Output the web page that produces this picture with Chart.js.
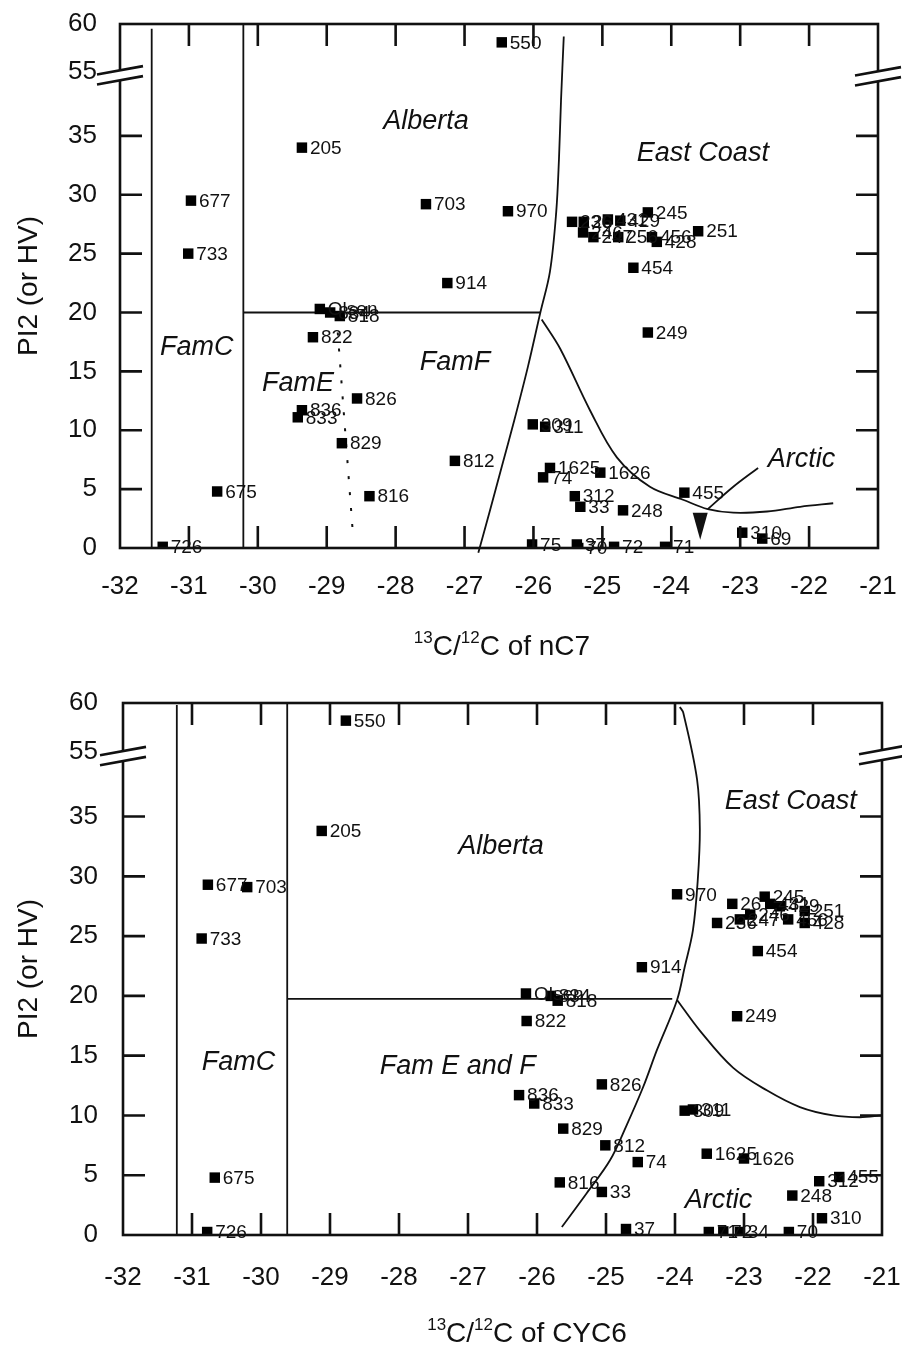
<!DOCTYPE html>
<html>
<head>
<meta charset="utf-8">
<title>PI2 vs carbon isotope ratio</title>
<script src="https://cdn.jsdelivr.net/npm/chart.js@4.4.1/dist/chart.umd.min.js"></script>
<style>
  html, body { margin: 0; padding: 0; background: #fff; }
  #wrap { position: relative; width: 902px; height: 1348px; overflow: hidden; }
  canvas { position: absolute; left: 0; }
  #nc7 { top: 0; }
  #cyc6 { top: 674px; }
</style>
</head>
<body>
<div id="wrap">
  <canvas id="nc7" width="902" height="672"></canvas>
  <canvas id="cyc6" width="902" height="674"></canvas>
</div>
<script>
const FONT = '"Liberation Sans", Arial, Helvetica, sans-serif';
const INK = '#111';

// ---- axes ----
const X_TICKS = [-32, -31, -30, -29, -28, -27, -26, -25, -24, -23, -22, -21];
const X_INNER_TICKS = [-31, -30, -29, -28, -27, -26, -25, -24, -23, -22];
const Y_TICK_LABELS = [0, 5, 10, 15, 20, 25, 30, 35, 55, 60];
const Y_INNER_TICKS = [5, 10, 15, 20, 25, 30, 35];

// axis break: values from 55 up are drawn compressed just above 40
const BREAK_FROM = 55, BREAK_BASE = 40.4, BREAK_SCALE = 0.82;
function disp(v) { return v >= BREAK_FROM ? BREAK_BASE + (v - BREAK_FROM) * BREAK_SCALE : v; }

// ---- samples, d13C of nC7 ----
const NC7_IDS = ['205','677','733','703','914','550','970','Olsen','834','818','822','826','836','833','829','816','675','726',
  '236','26','431','429','245','246','247','256','456','428','251','454','249','309','311','812','1625','74','1626',
  '312','33','248','455','310','69','75','37','70','72','71'];
const NC7_X = [-29.36,-30.97,-31.01,-27.56,-27.25,-26.46,-26.37,-29.10,-28.95,-28.81,-29.20,-28.56,-29.36,-29.42,-28.78,-28.38,-30.59,-31.38,
  -25.44,-25.27,-24.92,-24.74,-24.34,-25.28,-25.13,-24.77,-24.28,-24.21,-23.61,-24.55,-24.34,-26.01,-25.83,-27.14,-25.76,-25.86,-25.03,
  -25.40,-25.32,-24.70,-23.81,-22.97,-22.68,-26.02,-25.37,-25.35,-24.83,-24.09];
const NC7_PI2 = [34.0,29.5,25.0,29.2,22.5,58.1,28.6,20.3,20.0,19.7,17.9,12.7,11.7,11.1,8.9,4.4,4.8,0.1,
  27.7,27.7,27.9,27.8,28.5,26.8,26.4,26.4,26.4,26.0,26.9,23.8,18.3,10.5,10.3,7.4,6.8,6.0,6.4,
  4.4,3.5,3.2,4.7,1.3,0.8,0.3,0.3,0.0,0.1,0.1];

// ---- samples, d13C of CYC6 ----
const CYC6_IDS = ['205','677','733','703','914','550','970','Olsen','834','818','822','826','836','833','829','816','675','726',
  '236','26','431','429','245','246','247','456','428','251','454','249','309','311','812','1625','74','1626',
  '312','33','248','455','310','37','71','72','34','70'];
const CYC6_X = [-29.12,-30.77,-30.86,-30.20,-24.48,-28.77,-23.97,-26.16,-25.80,-25.70,-26.15,-25.06,-26.26,-26.04,-25.62,-25.67,-30.67,-30.78,
  -23.39,-23.17,-22.62,-22.48,-22.70,-22.91,-23.06,-22.36,-22.12,-22.12,-22.80,-23.10,-23.86,-23.74,-25.01,-23.54,-24.54,-23.00,
  -21.91,-25.06,-22.30,-21.62,-21.87,-24.71,-23.51,-23.30,-23.06,-22.35];
const CYC6_PI2 = [33.8,29.3,24.8,29.1,22.4,58.2,28.5,20.2,20.0,19.6,17.9,12.6,11.7,11.0,8.9,4.4,4.8,0.25,
  26.1,27.7,27.7,27.5,28.3,26.8,26.4,26.4,26.1,27.1,23.75,18.3,10.4,10.5,7.5,6.8,6.1,6.4,
  4.5,3.6,3.3,4.85,1.4,0.5,0.25,0.3,0.25,0.25];

// ---- field boundaries, nC7 ----
const NC7_FAMC_WEST = [[-31.54, 59.5], [-31.54, 0]];
const NC7_FAMC_EAST = [[-30.21, 60], [-30.21, 0]];
const NC7_PI2_20 = [[-30.21, 20], [-25.9, 20]];
const NC7_EAST_COAST = [[-25.56, 58.7], [-25.60, 38], [-25.63, 33], [-25.67, 28.5], [-25.76, 23.5], [-25.9, 20],
  [-26.08, 15.4], [-26.28, 10.8], [-26.46, 6.9], [-26.64, 3.0], [-26.8, -0.4]];
const NC7_ARCTIC = [[-25.88, 19.4], [-25.61, 16.9], [-25.18, 11.7], [-24.79, 7.7], [-24.31, 5.2], [-23.83, 4.1],
  [-23.47, 3.3], [-23.10, 3.0], [-22.61, 3.1], [-22.13, 3.5], [-21.65, 3.8]];
const NC7_ARCTIC_LEADER = [[-23.47, 3.3], [-23.10, 5.2], [-22.74, 6.8]];
const NC7_FAME = [[-28.84, 18.3], [-28.62, 1.2]];
const NC7_ARROW = { x: -23.58, tip: 0.7, base: 3.0 };
const NC7_FIELDS = [['FamC', -31.42, 16.4], ['FamE', -29.94, 13.3], ['FamF', -27.65, 15.15],
  ['Alberta', -28.18, 35.57], ['East Coast', -24.50, 32.85], ['Arctic', -22.60, 6.9]];

// ---- field boundaries, CYC6 ----
const CYC6_FAMC_WEST = [[-31.22, 59.8], [-31.22, 0]];
const CYC6_FAMC_EAST = [[-29.62, 60], [-29.62, 0]];
const CYC6_PI2_20 = [[-29.62, 19.75], [-24.04, 19.75]];
const CYC6_EAST_COAST = [[-23.93, 59.6], [-23.88, 59.0], [-23.68, 38.1], [-23.64, 33.9], [-23.67, 29.7], [-23.74, 25.5],
  [-23.86, 22.4], [-23.97, 19.66], [-24.26, 15.5], [-24.46, 12.4], [-24.70, 9.2], [-24.94, 6.27], [-25.28, 3.5], [-25.64, 0.67]];
const CYC6_ARCTIC = [[-23.97, 19.66], [-23.64, 17.1], [-23.16, 14.0], [-22.67, 12.1], [-22.19, 10.7], [-21.71, 10.0],
  [-21.32, 9.85], [-21.0, 10.0]];
const CYC6_FIELDS = [['FamC', -30.86, 13.8], ['Fam E and F', -28.28, 13.5], ['Alberta', -27.14, 31.9],
  ['East Coast', -23.28, 35.6], ['Arctic', -23.86, 2.25]];

function pts(list) { return list.map(([x, y]) => ({ x, y: disp(y) })); }

function boundary(list, extra) {
  return Object.assign({
    data: pts(list), showLine: true, pointRadius: 0, borderColor: INK, borderWidth: 1.8,
    tension: 0.35, fill: false, order: 5
  }, extra || {});
}

// frame, inward ticks, axis breaks, labels and axis title
const decor = {
  id: 'decor',
  afterDatasetsDraw(chart, args, o) {
    const { ctx, chartArea: a, scales: { x, y } } = chart;
    ctx.save();
    ctx.strokeStyle = INK;
    ctx.fillStyle = INK;
    ctx.lineCap = 'butt';

    // sample labels
    const meta = chart.getDatasetMeta(0);
    ctx.font = '19px ' + FONT;
    ctx.textAlign = 'left';
    ctx.textBaseline = 'middle';
    meta.data.forEach((p, i) => ctx.fillText(o.ids[i], p.x + 8, p.y + 1));

    // field names
    ctx.font = 'italic 27px ' + FONT;
    ctx.textBaseline = 'alphabetic';
    o.fields.forEach(([t, fx, fy]) => ctx.fillText(t, x.getPixelForValue(fx), y.getPixelForValue(disp(fy))));

    // arrowhead
    if (o.arrow) {
      const ax = x.getPixelForValue(o.arrow.x);
      const yt = y.getPixelForValue(o.arrow.tip), yb = y.getPixelForValue(o.arrow.base);
      ctx.beginPath();
      ctx.moveTo(ax - 7.5, yb); ctx.lineTo(ax + 7.5, yb); ctx.lineTo(ax, yt); ctx.closePath();
      ctx.fill();
    }

    // frame
    ctx.lineWidth = 2.6;
    ctx.strokeRect(a.left, a.top, a.right - a.left, a.bottom - a.top);

    // inward tick marks
    const TL = 22;
    ctx.lineWidth = 2.6;
    ctx.beginPath();
    X_INNER_TICKS.forEach(v => {
      const px = x.getPixelForValue(v);
      ctx.moveTo(px, a.bottom); ctx.lineTo(px, a.bottom - TL);
      ctx.moveTo(px, a.top); ctx.lineTo(px, a.top + TL);
    });
    Y_INNER_TICKS.forEach(v => {
      const py = y.getPixelForValue(disp(v));
      ctx.moveTo(a.left, py); ctx.lineTo(a.left + TL, py);
      ctx.moveTo(a.right, py); ctx.lineTo(a.right - TL, py);
    });
    ctx.stroke();

    // axis break marks on both sides
    [[a.left, o.breakL], [a.right, o.breakR]].forEach(([bx, off]) => {
      const cy = y.getPixelForValue(disp(55)) + off;
      const h = 23, s = 0.18, g = 5;
      ctx.fillStyle = '#fff';
      ctx.beginPath();
      ctx.moveTo(bx - h, cy - g + h * s); ctx.lineTo(bx + h, cy - g - h * s);
      ctx.lineTo(bx + h, cy + g - h * s); ctx.lineTo(bx - h, cy + g + h * s);
      ctx.closePath(); ctx.fill();
      ctx.lineWidth = 2.6;
      ctx.beginPath();
      ctx.moveTo(bx - h, cy - g + h * s); ctx.lineTo(bx + h, cy - g - h * s);
      ctx.moveTo(bx - h, cy + g + h * s); ctx.lineTo(bx + h, cy + g - h * s);
      ctx.stroke();
    });

    // x-axis title with superscript mass numbers
    ctx.fillStyle = INK;
    const big = '28px ' + FONT, small = '17px ' + FONT;
    const parts = [['13', small, -12], ['C/', big, 0], ['12', small, -12], ['C of ' + o.compound, big, 0]];
    let w = 0;
    parts.forEach(([t, f]) => { ctx.font = f; w += ctx.measureText(t).width; });
    let tx = o.titleX - w / 2;
    const ty = a.bottom + 107;
    parts.forEach(([t, f, dy]) => { ctx.font = f; ctx.fillText(t, tx, ty + dy); tx += ctx.measureText(t).width; });
    ctx.restore();
  }
};

function makeChart(id, cfg) {
  const samples = cfg.xs.map((v, i) => ({ x: v, y: disp(cfg.ys[i]) }));
  const datasets = [
    { data: samples, pointStyle: 'rect', pointRadius: 7.4, pointBorderWidth: 0,
      pointBackgroundColor: '#000', showLine: false, order: 0 }
  ].concat(cfg.lines);
  return new Chart(document.getElementById(id), {
    type: 'scatter',
    data: { datasets },
    plugins: [decor],
    options: {
      responsive: false, animation: false, events: [],
      layout: { padding: { top: cfg.padTop, right: cfg.padRight, left: 0, bottom: 0 } },
      plugins: {
        legend: { display: false }, tooltip: { enabled: false },
        decor: { ids: cfg.ids, fields: cfg.fields, arrow: cfg.arrow, compound: cfg.compound,
          titleX: cfg.titleX, breakL: cfg.breakL, breakR: cfg.breakR }
      },
      scales: {
        x: {
          type: 'linear', min: -32, max: -21,
          afterBuildTicks: s => { s.ticks = X_TICKS.map(v => ({ value: v })); },
          grid: { display: false, drawTicks: false }, border: { display: false },
          ticks: { font: { family: FONT, size: 26 }, color: INK, padding: cfg.xPad, maxRotation: 0, autoSkip: false,
            callback: v => String(v) },
          afterFit: s => { s.height = cfg.xHeight; s.paddingLeft = 0; s.paddingRight = 0; }
        },
        y: {
          type: 'linear', min: 0, max: disp(60),
          afterBuildTicks: s => { s.ticks = Y_TICK_LABELS.map(v => ({ value: disp(v) })); },
          grid: { display: false, drawTicks: false }, border: { display: false },
          ticks: { font: { family: FONT, size: 26 }, color: INK, padding: cfg.yPad, autoSkip: false,
            callback: (v, i) => String(Y_TICK_LABELS[i]) },
          title: { display: true, text: 'PI2 (or HV)', color: INK, font: { family: FONT, size: 28 },
            padding: { top: 12, bottom: 0 } },
          afterFit: s => { s.width = cfg.yWidth; s.paddingTop = 0; s.paddingBottom = 0; }
        }
      }
    }
  });
}

makeChart('nc7', {
  ids: NC7_IDS, xs: NC7_X, ys: NC7_PI2, fields: NC7_FIELDS, arrow: NC7_ARROW, compound: 'nC7',
  lines: [
    boundary(NC7_FAMC_WEST, { tension: 0 }), boundary(NC7_FAMC_EAST, { tension: 0 }), boundary(NC7_PI2_20, { tension: 0 }),
    boundary(NC7_EAST_COAST, { clip: false }), boundary(NC7_ARCTIC), boundary(NC7_ARCTIC_LEADER),
    boundary(NC7_FAME, { tension: 0, borderDash: [3, 13], borderWidth: 2 })
  ],
  padTop: 24, padRight: 24, yWidth: 120, xHeight: 124, xPad: 23, yPad: 23, titleX: 502, breakL: 3, breakR: 4
});

makeChart('cyc6', {
  ids: CYC6_IDS, xs: CYC6_X, ys: CYC6_PI2, fields: CYC6_FIELDS, arrow: null, compound: 'CYC6',
  lines: [
    boundary(CYC6_FAMC_WEST, { tension: 0 }), boundary(CYC6_FAMC_EAST, { tension: 0 }), boundary(CYC6_PI2_20, { tension: 0 }),
    boundary(CYC6_EAST_COAST), boundary(CYC6_ARCTIC)
  ],
  padTop: 29, padRight: 20, yWidth: 123, xHeight: 113, xPad: 27, yPad: 25, titleX: 527, breakL: 4, breakR: 3
});
</script>
</body>
</html>
